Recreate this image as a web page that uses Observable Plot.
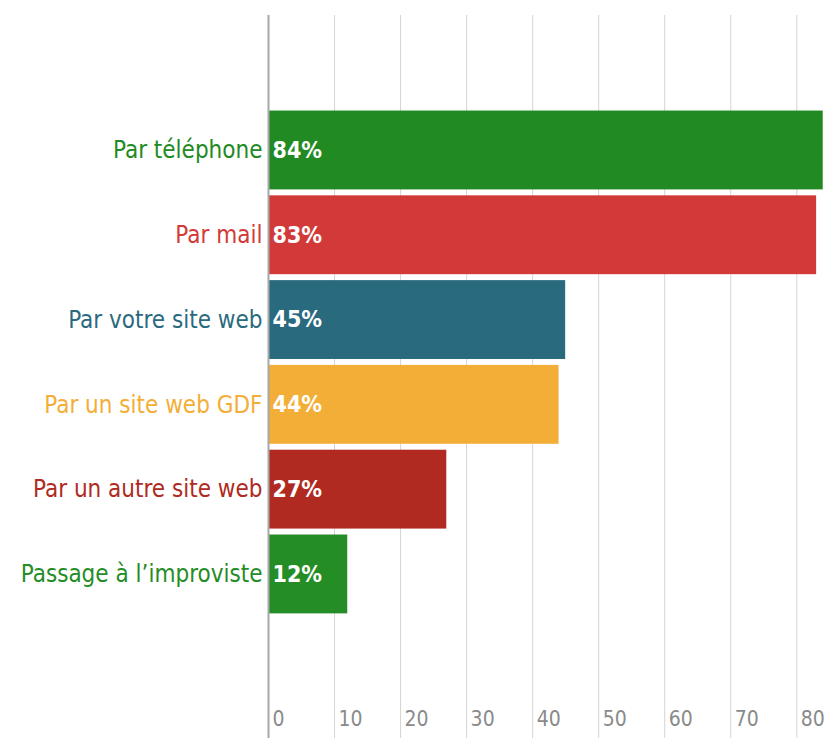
<!DOCTYPE html>
<html><head><meta charset="utf-8">
<script src="https://cdn.jsdelivr.net/npm/d3@7"></script>
<script src="https://cdn.jsdelivr.net/npm/@observablehq/plot@0.6"></script>
<style>body{margin:0;background:#fff} svg text{font-stretch:condensed}</style>
</head><body><div id="chart"></div>
<script>
const categories = ["Par téléphone","Par mail","Par votre site web","Par un site web GDF","Par un autre site web","Passage à l’improviste"];
const values = [84, 83, 45, 44, 27, 12];
const colors = ["#228a22","#d13a39","#2a6a7f","#f2ae37","#b02a22","#258d25"];
const xTicks = [0,10,20,30,40,50,60,70,80];

const data = categories.map((c,i)=>({cat:c, value:values[i], color:colors[i]}));
const font = "'DejaVu Sans Condensed','DejaVu Sans',sans-serif";

const chart = Plot.plot({
  width: 828, height: 738,
  marginLeft: 268, marginRight: 0, marginTop: 15, marginBottom: 0,
  style: {fontFamily: font, background: "#fff"},
  x: {domain: [0, 84.8], axis: null},
  y: {domain: categories, range: [104.6, 619.3], padding: 0.07, round: false, axis: null},
  marks: [
    Plot.ruleX(xTicks.filter(d=>d>0), {stroke: "#d4d4d4", strokeWidth: 1}),
    Plot.barX(data, {y: "cat", x: "value", fill: "color"}),
    Plot.ruleX([0], {stroke: "#a8a8a8", strokeWidth: 2}),
    Plot.text(data, {y: "cat", x: 0, text: "cat", fill: "color", textAnchor: "end", dx: -6, fontSize: 24}),
    Plot.text(data, {y: "cat", x: 0, text: d=>d.value+"%", fill: "#fff", textAnchor: "start", dx: 4, fontSize: 23, fontWeight: "bold"}),
    Plot.text(xTicks, {x: d=>d, text: d=>String(d), frameAnchor: "bottom", dy: -13, dx: 4, textAnchor: "start", fill: "#8a8a8a", fontSize: 21})
  ]
});
document.getElementById("chart").appendChild(chart);
</script>
</body></html>
